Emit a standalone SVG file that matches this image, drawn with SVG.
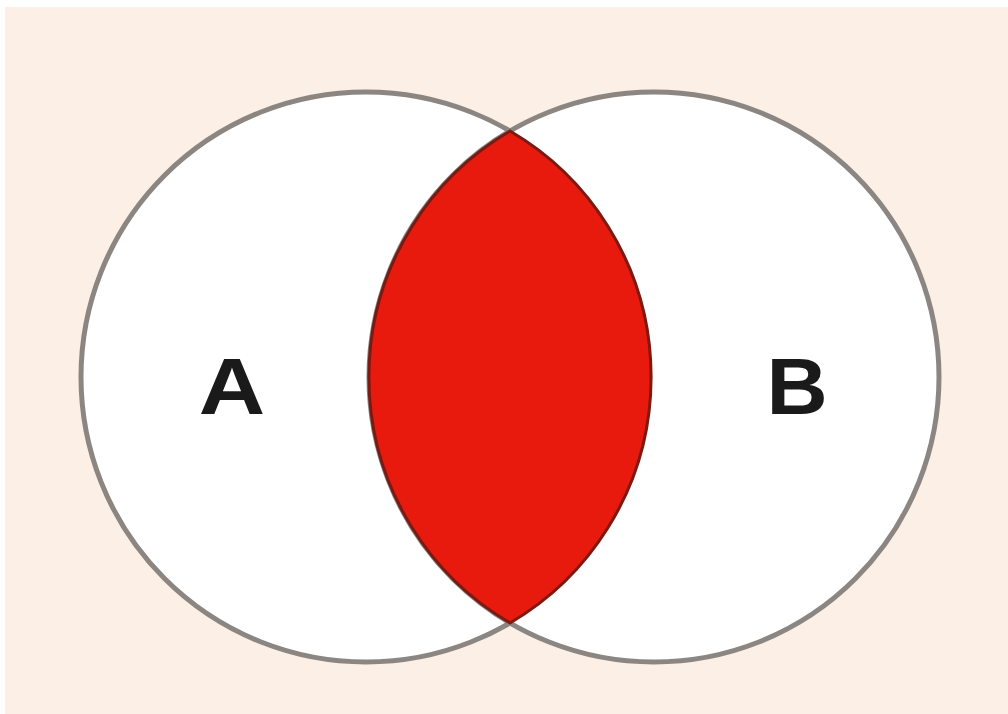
<svg xmlns="http://www.w3.org/2000/svg" width="1008" height="714" viewBox="0 0 1008 714">
  <style>
    .circle { fill: #ffffff; stroke: #8c8682; stroke-width: 5; }
    .lens { fill: #e81a0e; stroke: #7a1a12; stroke-width: 3; }
    .label { font-family: "Liberation Sans", Arial, sans-serif; font-weight: bold; font-size: 80px; fill: #1a1a1a; text-anchor: middle; }
  </style>
  <rect x="0" y="0" width="1008" height="714" fill="#ffffff"/>
  <rect x="5" y="7" width="1003" height="707" fill="#fcefe5"/>
  <g id="setA">
    <circle class="circle" cx="366" cy="377" r="285"/>
  </g>
  <g id="setB">
    <circle class="circle" cx="654" cy="377" r="285"/>
  </g>
  <g id="intersection">
    <path class="lens" d="M510,131 A285,285 0 0 1 510,623 A285,285 0 0 1 510,131 Z"/>
  </g>
  <g id="labels">
    <text class="label" transform="translate(232,414) scale(1.15,1)">A</text>
    <text class="label" transform="translate(797,414) scale(1.06,1)">B</text>
  </g>
</svg>
